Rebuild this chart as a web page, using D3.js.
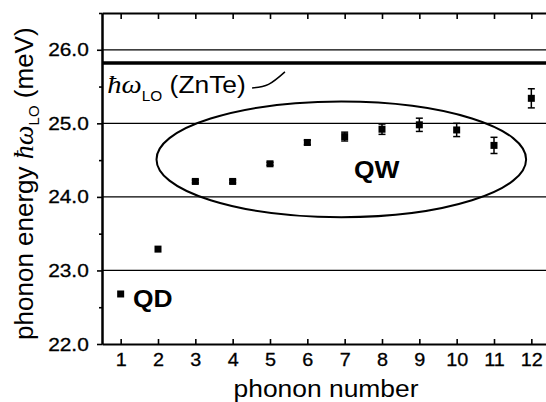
<!DOCTYPE html>
<html>
<head>
<meta charset="utf-8">
<script src="https://cdn.jsdelivr.net/npm/d3@7"></script>
<style>
  body { margin: 0; background: #fff; }
  svg { display: block; }
</style>
</head>
<body>
<svg id="chart" width="546" height="402"></svg>
<script>

// data
let phonon = [1, 2, 3, 4, 5, 6, 7, 8, 9, 10, 11, 12];
let energy = [22.68, 23.29, 24.21, 24.21, 24.45, 24.74, 24.82, 24.92, 24.98, 24.91, 24.70, 25.34];
let errors = [0, 0, 0.02, 0.02, 0.02, 0.03, 0.06, 0.07, 0.09, 0.09, 0.11, 0.13];

let yTicks = [22, 23, 24, 25, 26];
let yMinor = [22.5, 23.5, 24.5, 25.5, 26.5];
let gridLines = [23, 24, 25, 26];
let loZnTe = 25.82;

// QW ellipse (centre and radii in data units)
let qwEllipse = {cx: 6.91, cy: 24.51, rx: 4.95, ry: 0.786};

let width = 546;
let height = 402;
let stretch = 1.1;
let font = "'Liberation Sans', Arial, sans-serif";
let serif = "'Liberation Serif', 'Times New Roman', serif";

let x = d3.scaleLinear().domain([0.5, 12.5]).range([102, 550]);
let y = d3.scaleLinear().domain([22, 26.5]).range([344, 13]);

const svg = d3.select("#chart");

// horizontal reference lines
svg.append("g")
   .selectAll("line")
   .data(gridLines)
   .join("line")
   .attr("x1", x(0.5))
   .attr("x2", width)
   .attr("y1", d => y(d))
   .attr("y2", d => y(d))
   .attr("stroke", "#000")
   .attr("stroke-width", 1.3);

// LO phonon energy of ZnTe
svg.append("line")
   .attr("x1", x(0.5))
   .attr("x2", width)
   .attr("y1", y(loZnTe))
   .attr("y2", y(loZnTe))
   .attr("stroke", "#000")
   .attr("stroke-width", 3.6);

// axes
const axisStyle = g => {
	g.select(".domain").attr("stroke-width", 2);
	g.selectAll(".tick line").attr("stroke-width", 1.6);
	g.attr("font-family", font);
};

svg.append("g")
   .attr("transform", `translate(${x(0.5)},0)`)
   .call(d3.axisLeft(y).tickValues(yMinor).tickSize(3).tickSizeOuter(0).tickFormat(""))
   .call(axisStyle);

svg.append("g")
   .attr("transform", `translate(${x(0.5)},0)`)
   .call(d3.axisLeft(y).tickValues(yTicks).tickSize(5).tickSizeOuter(0).tickPadding(7).tickFormat(d3.format(".1f")))
   .call(axisStyle)
   .attr("font-size", 19)
   .selectAll("text")
   .attr("stroke", "#000")
   .attr("stroke-width", 0.3)
   .attr("transform", `scale(${stretch},1)`);

svg.append("g")
   .attr("transform", `translate(0,${y(26.5)})`)
   .call(d3.axisTop(x).tickValues(phonon).tickSizeInner(-6).tickSizeOuter(0).tickFormat(""))
   .call(axisStyle);

svg.append("g")
   .attr("transform", `translate(0,${y(22)})`)
   .call(d3.axisBottom(x).tickValues(phonon).tickSizeInner(-5).tickSizeOuter(0).tickPadding(9))
   .call(axisStyle)
   .attr("font-size", 18)
   .selectAll("text")
   .attr("stroke", "#000")
   .attr("stroke-width", 0.3)
   .attr("transform", `scale(${stretch},1)`);

// axis titles
svg.append("text")
   .attr("transform", `translate(${x(6.5)},397) scale(${stretch},1)`)
   .attr("text-anchor", "middle")
   .attr("font-family", font)
   .attr("font-size", 24)
   .text("phonon number");

const yTitle = svg.append("text")
   .attr("transform", `translate(33,${y(24.18)}) rotate(-90)`)
   .attr("text-anchor", "middle")
   .attr("font-family", font)
   .attr("font-size", 26);
yTitle.append("tspan").text("phonon energy ");
yTitle.append("tspan")
      .attr("font-family", serif)
      .attr("font-style", "italic")
      .attr("font-size", 28)
      .text("\u0127\u03c9");
yTitle.append("tspan").attr("font-size", 15).attr("dy", 6).text("LO");
yTitle.append("tspan").attr("dy", -6).text(" (meV)");

// QW ellipse
svg.append("ellipse")
   .attr("cx", x(qwEllipse.cx))
   .attr("cy", y(qwEllipse.cy))
   .attr("rx", x(qwEllipse.cx + qwEllipse.rx) - x(qwEllipse.cx))
   .attr("ry", y(qwEllipse.cy - qwEllipse.ry) - y(qwEllipse.cy))
   .attr("fill", "none")
   .attr("stroke", "#000")
   .attr("stroke-width", 2);

// error bars
const points = phonon.map((p, i) => ({n: p, e: energy[i], err: errors[i]}));

const bars = svg.append("g")
   .attr("stroke", "#000")
   .attr("stroke-width", 1.5)
   .selectAll("g")
   .data(points.filter(d => d.err > 0))
   .join("g");

bars.append("line")
    .attr("x1", d => x(d.n)).attr("x2", d => x(d.n))
    .attr("y1", d => y(d.e - d.err)).attr("y2", d => y(d.e + d.err));
bars.append("line")
    .attr("x1", d => x(d.n) - 3.5).attr("x2", d => x(d.n) + 3.5)
    .attr("y1", d => y(d.e + d.err)).attr("y2", d => y(d.e + d.err));
bars.append("line")
    .attr("x1", d => x(d.n) - 3.5).attr("x2", d => x(d.n) + 3.5)
    .attr("y1", d => y(d.e - d.err)).attr("y2", d => y(d.e - d.err));

// markers
svg.append("g")
   .selectAll("rect")
   .data(points)
   .join("rect")
   .attr("x", d => x(d.n) - 3.5)
   .attr("y", d => y(d.e) - 3.5)
   .attr("width", 7)
   .attr("height", 7)
   .attr("fill", "#000");

// labels
svg.append("text")
   .attr("transform", `translate(${x(7.25)},${y(24.26)}) scale(${stretch},1)`)
   .attr("font-family", font)
   .attr("font-weight", "bold")
   .attr("font-size", 24)
   .text("QW");

svg.append("text")
   .attr("transform", `translate(${x(1.33)},${y(22.5)}) scale(${stretch},1)`)
   .attr("font-family", font)
   .attr("font-weight", "bold")
   .attr("font-size", 24)
   .text("QD");

const loLabel = svg.append("text")
   .attr("transform", `translate(${x(0.64)},${y(25.41)}) scale(${stretch},1)`)
   .attr("font-family", font)
   .attr("font-size", 24);
loLabel.append("tspan")
       .attr("font-family", serif)
       .attr("font-style", "italic")
       .attr("font-size", 26)
       .text("\u0127\u03c9");
loLabel.append("tspan").attr("font-size", 14).attr("dy", 8).text("LO");
loLabel.append("tspan").attr("dy", -8).text(" (ZnTe)");

// leader line from the label to the thick line
let leader = [[4.52, 25.48], [4.96, 25.53], [5.40, 25.70]];
svg.append("path")
   .attr("d", d3.line().x(d => x(d[0])).y(d => y(d[1])).curve(d3.curveNatural)(leader))
   .attr("fill", "none")
   .attr("stroke", "#000")
   .attr("stroke-width", 1.5);

</script>
</body>
</html>
